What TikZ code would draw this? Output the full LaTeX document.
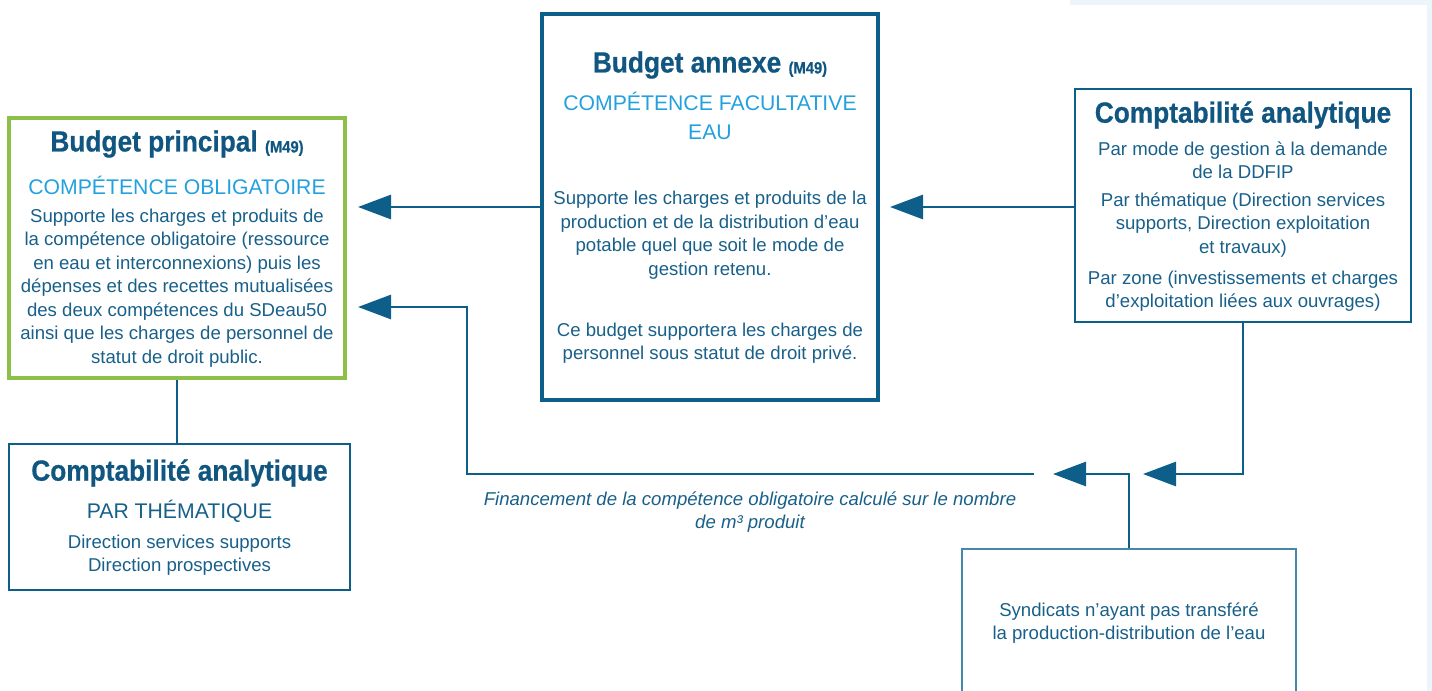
\documentclass[tikz,border=0pt]{standalone}
\usepackage{fontspec}
\setmainfont{Liberation Sans}
\newfontfamily\ttlfont{Liberation Sans Bold}[FakeStretch=0.9, FakeBold=0.6]
\usetikzlibrary{arrows.meta}
\definecolor{dblue}{RGB}{14,94,138}
\definecolor{tblue}{RGB}{24,96,138}
\definecolor{hblue}{RGB}{16,86,128}
\definecolor{lblue}{RGB}{34,161,222}
\definecolor{lgreen}{RGB}{141,192,72}
\definecolor{sblue}{RGB}{70,135,172}
\definecolor{faint}{RGB}{236,245,250}
\begin{document}
\begin{tikzpicture}[x=0.5pt,y=-0.5pt,
  frame/.style={draw=dblue, fill=none, inner sep=0pt},
  txt/.style={inner sep=0pt, align=center, text=tblue},
  ttl/.style={txt, text=hblue, font=\fontsize{14.6}{17}\ttlfont},
  sub/.style={txt, text=lblue, font=\fontsize{10.6}{14.5}\selectfont},
  body/.style={txt, font=\fontsize{9.3}{11.75}\selectfont},
  arr/.style={draw=dblue, line width=1.4pt, -{Triangle[length=16.5pt, width=12pt]}},
  link/.style={draw=dblue, line width=1.4pt}
]
\useasboundingbox (0,0) rectangle (1432,691);
% faint background edges
\fill[faint] (1070,0) rectangle (1432,5);
\fill[faint] (1427,0) rectangle (1432,691);

% boxes
\node[frame, draw=lgreen, line width=2pt, minimum width=168pt, minimum height=130pt] (princ) at (177,248) {};
\node[frame, line width=2pt, minimum width=168pt, minimum height=193pt] (annexe) at (710,207) {};
\node[frame, line width=1.3pt, minimum width=168pt, minimum height=116.5pt] (compR) at (1243,205.5) {};
\node[frame, line width=1.3pt, minimum width=170.5pt, minimum height=73pt] (compL) at (179.5,517) {};
\node[frame, draw=sblue, line width=0.85pt, minimum width=167pt, minimum height=85.5pt] (synd) at (1129,634.5) {};

% texts: budget principal
\node[ttl] (t1) at (177,144) {Budget principal {\fontsize{8.2}{10}\selectfont\raisebox{-0.5pt}{(M49)}}};
\node[sub] (t2) at (177,185) {COMPÉTENCE OBLIGATOIRE};
\node[body] (t3) at (177,288) {Supporte les charges et produits de\\la compétence obligatoire (ressource\\en eau et interconnexions) puis les\\dépenses et des recettes mutualisées\\des deux compétences du SDeau50\\ainsi que les charges de personnel de\\statut de droit public.};

% budget annexe
\node[ttl] (a1) at (710,65) {Budget annexe {\fontsize{8.2}{10}\selectfont\raisebox{-0.5pt}{(M49)}}};
\node[sub] (a2) at (710,116) {COMPÉTENCE FACULTATIVE\\EAU};
\node[body] (a3) at (710,235) {Supporte les charges et produits de la\\production et de la distribution d’eau\\potable quel que soit le mode de\\gestion retenu.};
\node[body] (a4) at (710,343) {Ce budget supportera les charges de\\personnel sous statut de droit privé.};

% comptabilite right
\node[ttl] (r1) at (1243,115) {Comptabilité analytique};
\node[body] (r2) at (1243,160) {Par mode de gestion à la demande\\de la DDFIP};
\node[body] (r3) at (1243,225) {Par thématique (Direction services\\supports, Direction exploitation\\et travaux)};
\node[body] (r4) at (1243,291) {Par zone (investissements et charges\\d’exploitation liées aux ouvrages)};

% comptabilite left
\node[ttl] (l1) at (179.5,473) {Comptabilité analytique};
\node[sub, text=tblue] (l2) at (179.5,511) {PAR THÉMATIQUE};
\node[body] (l3) at (179.5,555) {Direction services supports\\Direction prospectives};

% syndicats
\node[body] (s1) at (1129,623) {Syndicats n’ayant pas transféré\\la production-distribution de l’eau};

% label
\node[body, font=\fontsize{9.3}{11.75}\selectfont\itshape] (lab) at (750,512) {Financement de la compétence obligatoire calculé sur le nombre\\de m³ produit};

% connectors
\coordinate (tA) at (358,207);
\coordinate (tB) at (890,207);
\coordinate (tC) at (1053,474);
\coordinate (tD) at (1143,474);
\coordinate (fEnd) at (1034,474);
\coordinate (cK) at (467,307);
\coordinate (tE) at (358,307);

\draw[arr] (annexe.west |- tA) -- (tA);
\draw[arr] (compR.west |- tB) -- (tB);
\draw[arr] (synd.north) |- (tC);
\draw[arr] (compR.south) |- (tD);
\draw[arr] (fEnd) -| (cK) -- (tE);
\draw[link] (princ.south) -- (princ.south |- compL.north);
\end{tikzpicture}
\end{document}
